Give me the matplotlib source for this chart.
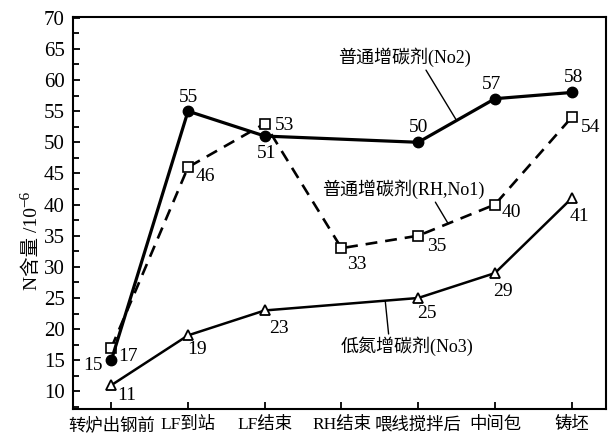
import numpy as np
import matplotlib.pyplot as plt
from matplotlib.ticker import MultipleLocator

plt.rcParams['font.family'] = ['Liberation Serif', 'Noto Sans CJK SC', 'DejaVu Sans']

stages = ['转炉出钢前', 'LF到站', 'LF结束', 'RH结束', '喂线搅拌后', '中间包', '铸坯']
# nan = not sampled at that stage
n_no2 = [15, 55, 51, np.nan, 50, 57, 58]
n_no1 = [17, 46, 53, 33, 35, 40, 54]
n_no3 = [11, 19, 23, np.nan, 25, 29, 41]

# label offsets in pixels (dx, dy, ha)
off_no2 = [(-9, -5, 'right'), (0, 14, 'center'), (2, -17, 'center'), None,
           (0, 15, 'center'), (-3, 14, 'center'), (2, 15, 'center')]
off_no1 = [(7, -9, 'left'), (8, -9, 'left'), (10, -2, 'left'), (6, -16, 'left'),
           (9, -11, 'left'), (7, -8, 'left'), (9, -10, 'left')]
off_no3 = [(6, -10, 'left'), (9, -14, 'center'), (14, -18, 'center'), None,
           (9, -16, 'center'), (8, -18, 'center'), (8, -18, 'center')]

fig = plt.figure(figsize=(6.08, 4.42), dpi=100)
ax = fig.add_axes([0.120, 0.075, 0.877, 0.887])

x = np.arange(len(stages))


def draw(vals, offs, **kw):
    vals = np.array(vals, dtype=float)
    ok = ~np.isnan(vals)
    ax.plot(x[ok], vals[ok], color='black', clip_on=False, zorder=3, **kw)
    for xi, v, o in zip(x, vals, offs):
        if o is None or np.isnan(v):
            continue
        ax.annotate(f'{v:.0f}', (xi, v), xytext=(o[0], o[1]),
                    textcoords='offset pixels', ha=o[2], va='center',
                    fontsize=14, zorder=4)


draw(n_no1, off_no1, lw=1.9, ls=(0, (4.5, 3)), marker='s', ms=6.5,
     mfc='white', mec='black', mew=1.2)
draw(n_no3, off_no3, lw=1.8, marker='^', ms=7.5,
     mfc='white', mec='black', mew=1.3)
draw(n_no2, off_no2, lw=2.3, marker='o', ms=7.5,
     mfc='black', mec='black')

lead = dict(arrowstyle='-', lw=1.0, color='black', shrinkA=0, shrinkB=0)
ax.annotate('普通增碳剂(No2)', xy=(4.5, 53.5), xytext=(3.82, 63.6),
            ha='center', va='center', fontsize=13,
            arrowprops=dict(relpos=(0.65, 0.0), **lead))
ax.annotate('普通增碳剂(RH,No1)', xy=(4.39, 36.95), xytext=(3.80, 42.4),
            ha='center', va='center', fontsize=13,
            arrowprops=dict(relpos=(0.69, 0.0), **lead))
ax.annotate('低氮增碳剂(No3)', xy=(3.57, 24.57), xytext=(3.86, 17.2),
            ha='center', va='center', fontsize=13,
            arrowprops=dict(relpos=(0.36, 1.0), **lead))

ax.set_xlim(-0.5, 6.45)
ax.set_ylim(7.2, 70.15)
ax.set_xticks(x)
ax.set_xticklabels(stages, fontsize=12.5)
ax.yaxis.set_major_locator(MultipleLocator(5))
ax.yaxis.set_minor_locator(MultipleLocator(2.5))
ax.set_yticks(np.arange(10, 71, 5))
ax.tick_params(axis='both', which='both', direction='in', width=1.3)
ax.tick_params(axis='both', which='major', length=5, pad=6)
ax.tick_params(axis='y', which='major', labelsize=15)
ax.tick_params(axis='y', which='minor', length=4)
ax.tick_params(axis='x', which='minor', length=0)
for s in ax.spines.values():
    s.set_linewidth(1.5)

# y-axis label, exponent hung off the end of the main text
ylab = fig.text(32 / 608, 1 - 290 / 442, 'N含量 /10', rotation=90,
                ha='center', va='bottom', fontsize=14)
ax.annotate('−6', xy=(0, 1), xycoords=ylab, xytext=(-3, 0),
            textcoords='offset pixels', rotation=90,
            ha='left', va='bottom', fontsize=11, annotation_clip=False)

fig.savefig('out.png', dpi=100)
